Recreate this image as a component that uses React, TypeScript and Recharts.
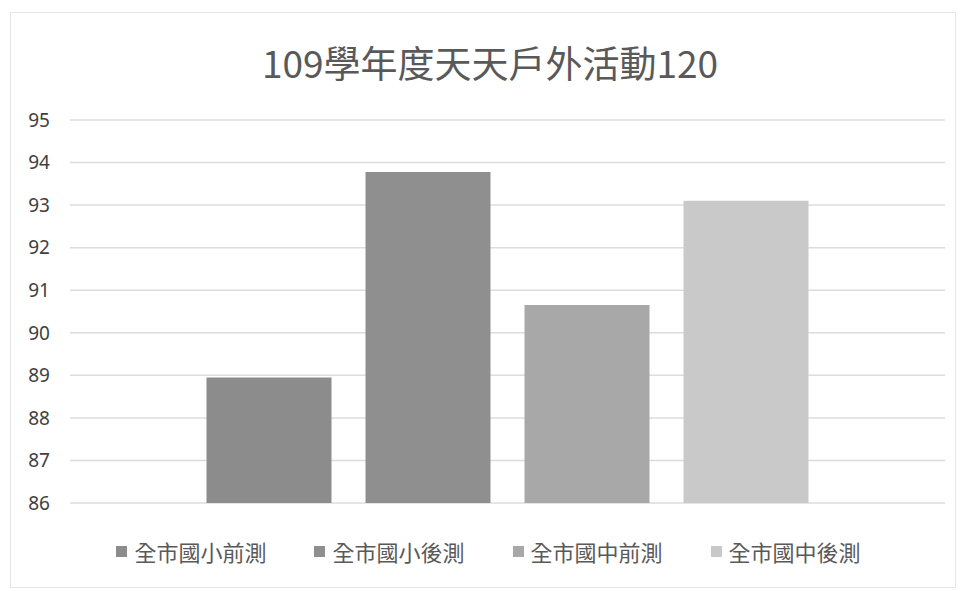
import React from 'react';
import { BarChart, Bar, XAxis, YAxis, CartesianGrid, Legend } from 'recharts';

const title = '109學年度天天戶外活動120';
const seriesNames = ['全市國小前測', '全市國小後測', '全市國中前測', '全市國中後測'];
const seriesValues = [88.95, 93.78, 90.65, 93.1];
const seriesColors = ['#8c8c8c', '#8f8f8f', '#a8a8a8', '#c9c9c9'];
const yTicks = [86, 87, 88, 89, 90, 91, 92, 93, 94, 95];

const row: Record<string, number | string> = { name: '' };
seriesNames.forEach((n, i) => {
  row[n] = seriesValues[i];
});
const data = [row];

const FONT = '"Noto Sans CJK TC", "Noto Sans", sans-serif';

const renderLegend = () => {
  return (
    <div style={{ display: 'flex', justifyContent: 'center', alignItems: 'center', fontFamily: FONT, fontSize: 22, color: '#595959', paddingLeft: 32 }}>
      {seriesNames.map((n, i) => (
        <div key={n} style={{ display: 'flex', alignItems: 'center', marginRight: i < seriesNames.length - 1 ? 48 : 0 }}>
          <span style={{ display: 'inline-block', width: 11, height: 11, background: seriesColors[i], marginRight: 7 }} />
          <span>{n}</span>
        </div>
      ))}
    </div>
  );
};

export default function App() {
  return (
    <div style={{ position: 'absolute', left: 0, top: 0, width: 960, height: 591, background: '#fff' }}>
      <div style={{ position: 'absolute', left: 10, top: 12, width: 944, height: 574, border: '1px solid #e6e6e6' }} />
      <div style={{ position: 'absolute', left: 0, top: 36, width: 980, textAlign: 'center', fontFamily: FONT, fontSize: 37, color: '#595959', lineHeight: '52px' }}>
        {title}
      </div>
      <div style={{ position: 'absolute', left: 0, top: 0 }}>
        <BarChart
          width={960}
          height={591}
          data={data}
          margin={{ top: 120, right: 15, bottom: 56, left: 0 }}
          barCategoryGap="15.6%"
          barGap={34}
        >
          <CartesianGrid vertical={false} stroke="#dcdcdc" strokeWidth={1.5} />
          <XAxis dataKey="name" tick={false} tickLine={false} axisLine={{ stroke: '#d4d4d4', strokeWidth: 1.5 }} height={0} />
          <YAxis
            width={70}
            domain={[86, 95]}
            ticks={yTicks}
            interval={0}
            allowDataOverflow
            axisLine={false}
            tickLine={false}
            tickSize={0}
            tickMargin={20}
            tick={{ fill: '#404040', fontSize: 19, fontFamily: '"Noto Sans", sans-serif' }}
          />
          {seriesNames.map((n, i) => (
            <Bar key={n} dataKey={n} fill={seriesColors[i]} isAnimationActive={false} />
          ))}
          <Legend
            verticalAlign="bottom"
            content={renderLegend}
            wrapperStyle={{ bottom: 24 }}
          />
        </BarChart>
      </div>
    </div>
  );
}
